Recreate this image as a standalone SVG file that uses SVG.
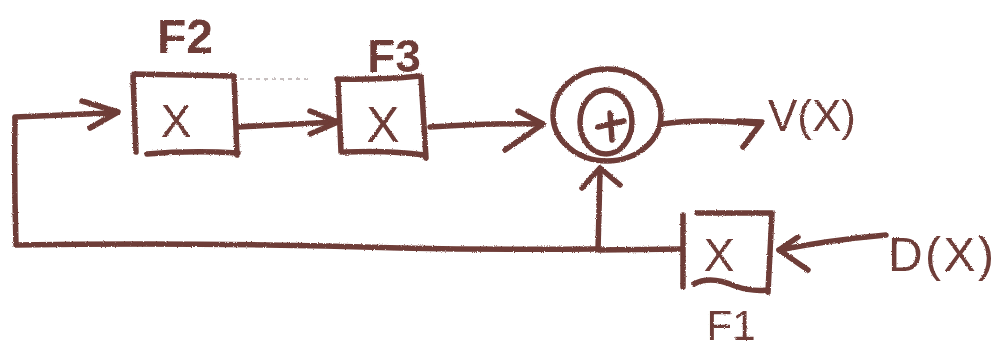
<svg xmlns="http://www.w3.org/2000/svg" width="999" height="354" viewBox="0 0 999 354">
<defs>
<filter id="crayon" x="-5%" y="-5%" width="110%" height="110%">
<feTurbulence type="fractalNoise" baseFrequency="0.9" numOctaves="2" seed="3" result="n"/>
<feDisplacementMap in="SourceGraphic" in2="n" scale="2.5" xChannelSelector="R" yChannelSelector="G"/>
</filter>
</defs>
<style>
.s{fill:none;stroke:#6e3c37;stroke-width:5.5;stroke-linecap:round;stroke-linejoin:round}
.t{fill:#6e3c37;font-family:"Liberation Sans","DejaVu Sans",sans-serif}
.lb{font-weight:bold}
</style>
<rect width="999" height="354" fill="#ffffff"/>
<g filter="url(#crayon)">
<g id="connectors">
<path class="s" d="M15,118 Q14,180 16,245 Q200,242 400,248 Q500,250 597,249"/>
<path class="s" d="M15,117 L110,113"/>
<path class="s" d="M82,101 L118,112 L90,128"/>
<path class="s" d="M238,127 Q290,124 338,122"/>
<path class="s" d="M310,111 L338,122 L310,134"/>
<path class="s" d="M430,127 Q490,123 543,124"/>
<path class="s" d="M518,111 L543,124 L505,150"/>
<path class="s" d="M662,124 Q700,118 760,124"/>
<path class="s" d="M738,121 L762,122 L743,147"/>
<path class="s" d="M682,249 L598,250 L600,172"/>
<path class="s" d="M582,188 L600,168 L620,185"/>
<path class="s" d="M886,235 Q830,240 779,250"/>
<path class="s" d="M798,237 L779,250 L808,270"/>
<path d="M240,79 L312,79" stroke="#c8c0c0" stroke-width="2" stroke-dasharray="4,4" fill="none"/>
</g>
<g id="F2">
<path class="s" d="M134,74 L234,76 M133,76 L136,152 M234,76 L237,155 M147,154 Q190,150 238,153"/>
<text class="t" x="176" y="137" font-size="46" text-anchor="middle">X</text>
<text class="t lb" x="185" y="53" font-size="48" text-anchor="middle">F2</text>
</g>
<g id="F3">
<path class="s" d="M337,79 Q380,80 420,76 M338,80 L341,152 M421,77 L426,158 M345,152 Q390,150 424,155"/>
<text class="t" x="383" y="142" font-size="50" text-anchor="middle">X</text>
<text class="t lb" x="394" y="72" font-size="46" text-anchor="middle">F3</text>
</g>
<g id="sum">
<ellipse class="s" cx="607" cy="115" rx="54" ry="46"/>
<ellipse class="s" cx="606" cy="122" rx="26" ry="32"/>
<path class="s" d="M598,127 L624,121 M610,113 L612,140"/>
</g>
<g id="VX">
<text class="t" x="812" y="131" font-size="44" text-anchor="middle">V(X)</text>
</g>
<g id="F1">
<path class="s" d="M683,215 L683,287 M697,213 L772,213 M772,213 L768,292 M694,284 Q710,275 735,286 Q752,292 768,290"/>
<text class="t" x="731" y="340" font-size="42" text-anchor="middle">F1</text>
<text class="t" x="719" y="271" font-size="46" text-anchor="middle">X</text>
</g>
<g id="DX">
<text class="t" x="888" y="271" font-size="48" textLength="106" lengthAdjust="spacing">D(X)</text>
</g>
</g>
</svg>
